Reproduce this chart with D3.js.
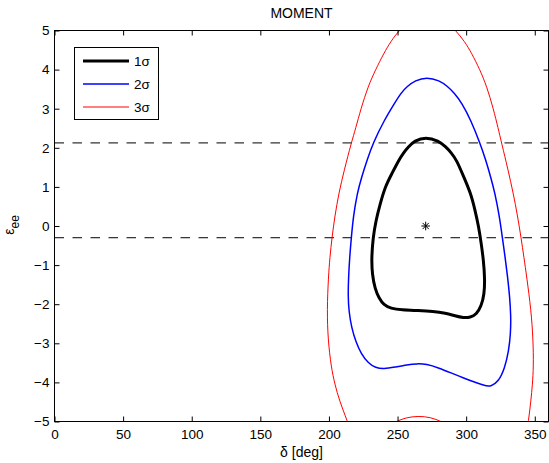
<!DOCTYPE html>
<html>
<head>
<meta charset="utf-8">
<script src="https://cdn.jsdelivr.net/npm/d3@7"></script>
<style>
  body { margin: 0; background: #fff; }
  svg text { font-family: "Liberation Sans", Arial, Helvetica, sans-serif; fill: #000; }
</style>
</head>
<body>
<svg id="chart" width="549" height="463"></svg>
<script>
// ---- data ----
const xTicks = [0, 50, 100, 150, 200, 250, 300, 350];
const yTicks = [-5, -4, -3, -2, -1, 0, 1, 2, 3, 4, 5];
const xDomain = [0, 360];
const yDomain = [-5, 5];
const titleText = "MOMENT";
const legendLabels = ["1σ", "2σ", "3σ"];

// best-fit point (delta, eps_ee)
const bestFit = [270.5, 0.0];
// horizontal reference levels of eps_ee
const refLevels = [2.125, -0.3];

// confidence contours, [delta (deg), eps_ee], traced clockwise from the top
const sigma1 = [
  [270.5, 2.28], [279.8, 2.18], [285.3, 2.02], [289.2, 1.87], [293, 1.69], [298.3, 1.25],
  [303.3, 0.84], [306.5, 0.4], [309, 0.0], [311, -0.45], [312.6, -0.87], [313.6, -1.35],
  [313.2, -1.75], [311, -2.05], [307.5, -2.26], [303, -2.34], [298, -2.35], [292, -2.3],
  [285, -2.23], [276, -2.18], [265, -2.16], [253, -2.15], [245, -2.11], [240, -2.02],
  [236.5, -1.85], [233.5, -1.6], [231.6, -1.25], [231, -0.85], [232.1, -0.3], [234.3, 0.15],
  [237.2, 0.55], [241, 1.01], [246, 1.35], [251, 1.69], [254.3, 1.87], [257.7, 2.02], [262.4, 2.18]
];
const sigma2 = [
  [271.3, 3.81], [280.5, 3.72], [286.5, 3.57], [291.3, 3.4], [296.8, 3.15], [303.5, 2.7],
  [310, 2.125], [314.3, 1.69], [317.9, 1.25], [321, 0.84], [324.2, 0.25], [326.4, -0.3],
  [328.4, -0.8], [330.2, -1.3], [331.7, -1.8], [332.6, -2.3], [332.4, -2.75], [331, -3.2],
  [328, -3.65], [323.5, -3.98], [318, -4.11], [313, -4.08], [305, -3.98], [297, -3.87],
  [290.5, -3.78], [280, -3.63], [271, -3.53], [264, -3.52], [257, -3.55], [248, -3.61],
  [240, -3.66], [234, -3.63], [228.5, -3.5], [223.5, -3.27], [219.5, -2.95], [216.5, -2.6],
  [214.6, -2.2], [213.9, -1.8], [214.3, -1.3], [215.1, -0.8], [216.3, -0.3], [217.8, 0.25],
  [220.6, 0.84], [223.8, 1.25], [227.8, 1.69], [232.2, 2.125], [240.2, 2.7], [248, 3.15],
  [252.4, 3.4], [257, 3.57], [262.8, 3.72]
];
const sigma3 = [
  [272, 5.44], [283.8, 5.3], [292.4, 5.0], [298.9, 4.72], [303.8, 4.43], [310, 4.0],
  [315, 3.57], [319.8, 3.0], [323.3, 2.5], [325.8, 2.125], [330.5, 1.44], [334.3, 0.84],
  [337.5, 0.25], [340, -0.3], [342.1, -0.8], [344.1, -1.3], [347.3, -2.15], [348.8, -2.9],
  [349.1, -3.6], [348.3, -4.05], [347.2, -4.46], [345.4, -5.0], [343.5, -5.4], [330, -5.7],
  [305, -5.5], [288, -5.12], [282, -5.0], [274, -4.89], [265, -4.86], [256, -4.9],
  [249, -5.0], [243, -5.12], [228, -5.5], [217, -5.35], [213.5, -5.0], [207.6, -4.46],
  [204.3, -4.05], [201.6, -3.6], [199.3, -2.9], [198.6, -2.15], [199.6, -1.3], [200.7, -0.8],
  [202.2, -0.3], [204.3, 0.25], [207.2, 0.84], [211.2, 1.44], [216.3, 2.125], [219.5, 2.5],
  [223.3, 3.0], [228.5, 3.57], [234, 4.0], [240.2, 4.43], [245.1, 4.72], [251, 5.0], [260.2, 5.3]
];

// ---- layout ----
const svg = d3.select("#chart");
const x = d3.scaleLinear().domain(xDomain).range([54.5, 548.5]);
const y = d3.scaleLinear().domain(yDomain).range([421.5, 30.5]);
const [x0, x1] = x.range();
const [y0, y1] = y.range();

svg.append("defs").append("clipPath").attr("id", "plotClip")
  .append("rect").attr("x", x0).attr("y", y1).attr("width", x1 - x0).attr("height", y0 - y1);

const plot = svg.append("g").attr("clip-path", "url(#plotClip)");

// dashed reference levels
plot.selectAll("line.ref").data(refLevels).join("line")
  .attr("class", "ref")
  .attr("x1", x0).attr("x2", x1)
  .attr("y1", d => y(d)).attr("y2", d => y(d))
  .attr("stroke", "#000").attr("stroke-width", 1)
  .attr("stroke-dasharray", "9.5,8.5");

// contours (smooth closed B-spline through the traced points)
const contourLine = d3.line()
  .x(d => x(d[0])).y(d => y(d[1]))
  .curve(d3.curveBasisClosed);

const contours = [
  { pts: sigma3, color: "#ff0000", width: 1 },
  { pts: sigma2, color: "#0000ff", width: 1.5 },
  { pts: sigma1, color: "#000000", width: 3 }
];
plot.selectAll("path.contour").data(contours).join("path")
  .attr("class", "contour")
  .attr("d", d => contourLine(d.pts))
  .attr("fill", "none")
  .attr("stroke", d => d.color)
  .attr("stroke-width", d => d.width)
  .attr("stroke-linejoin", "round");

// best-fit asterisk marker
const r = 4.3, rd = r * 0.72;
const star = d3.path();
star.moveTo(-r, 0); star.lineTo(r, 0);
star.moveTo(0, -r); star.lineTo(0, r);
star.moveTo(-rd, -rd); star.lineTo(rd, rd);
star.moveTo(-rd, rd); star.lineTo(rd, -rd);
plot.append("path")
  .attr("d", star.toString())
  .attr("transform", `translate(${x(bestFit[0])},${y(bestFit[1])})`)
  .attr("stroke", "#000").attr("stroke-width", 1).attr("fill", "none");

// ---- axes ----
function styleAxis(g) {
  g.select(".domain").remove();
  g.selectAll(".tick line").attr("stroke", "#000");
  g.selectAll(".tick text").attr("font-size", 13.5)
    .attr("font-family", '"Liberation Sans", Arial, Helvetica, sans-serif');
  g.attr("font-family", null).attr("font-size", null);
}
svg.append("g").attr("transform", `translate(0,${y0})`)
  .call(d3.axisBottom(x).tickValues(xTicks).tickSizeInner(-5).tickSizeOuter(0).tickPadding(8))
  .call(styleAxis);
svg.append("g").attr("transform", `translate(0,${y1})`)
  .call(d3.axisTop(x).tickValues(xTicks).tickSizeInner(-5).tickSizeOuter(0).tickFormat(""))
  .call(styleAxis);
svg.append("g").attr("transform", `translate(${x0},0)`)
  .call(d3.axisLeft(y).tickValues(yTicks).tickSizeInner(-5).tickSizeOuter(0).tickPadding(5))
  .call(styleAxis);
svg.append("g").attr("transform", `translate(${x1},0)`)
  .call(d3.axisRight(y).tickValues(yTicks).tickSizeInner(-5).tickSizeOuter(0).tickFormat(""))
  .call(styleAxis);

// frame
svg.append("rect")
  .attr("x", x0).attr("y", y1).attr("width", x1 - x0).attr("height", y0 - y1)
  .attr("fill", "none").attr("stroke", "#000").attr("stroke-width", 1);

// ---- titles ----
const cx = (x0 + x1) / 2;
svg.append("text").attr("x", cx).attr("y", 17.5)
  .attr("text-anchor", "middle").attr("font-size", 14).text(titleText);

svg.append("text").attr("x", cx).attr("y", 457)
  .attr("text-anchor", "middle").attr("font-size", 14).text("δ [deg]");

const yl = svg.append("text")
  .attr("transform", "translate(13.5,225) rotate(-90)")
  .attr("text-anchor", "middle").attr("font-size", 14);
yl.append("tspan").text("ε");
yl.append("tspan").attr("font-size", 12).attr("dy", 5).text("ee");

// ---- legend ----
const legend = svg.append("g");
legend.append("rect")
  .attr("x", 74.5).attr("y", 47.5).attr("width", 84).attr("height", 72)
  .attr("fill", "#fff").attr("stroke", "#000").attr("stroke-width", 1);
const items = legend.selectAll("g.item").data(contours.slice().reverse()).join("g")
  .attr("class", "item")
  .attr("transform", (d, i) => `translate(0,${61 + i * 23})`);
items.append("line")
  .attr("x1", 83).attr("x2", 129).attr("y1", 0).attr("y2", 0)
  .attr("stroke", d => d.color).attr("stroke-width", d => d.width);
items.append("text")
  .attr("x", 134).attr("y", 4.8).attr("font-size", 13.5)
  .text((d, i) => legendLabels[i]);
</script>
</body>
</html>
